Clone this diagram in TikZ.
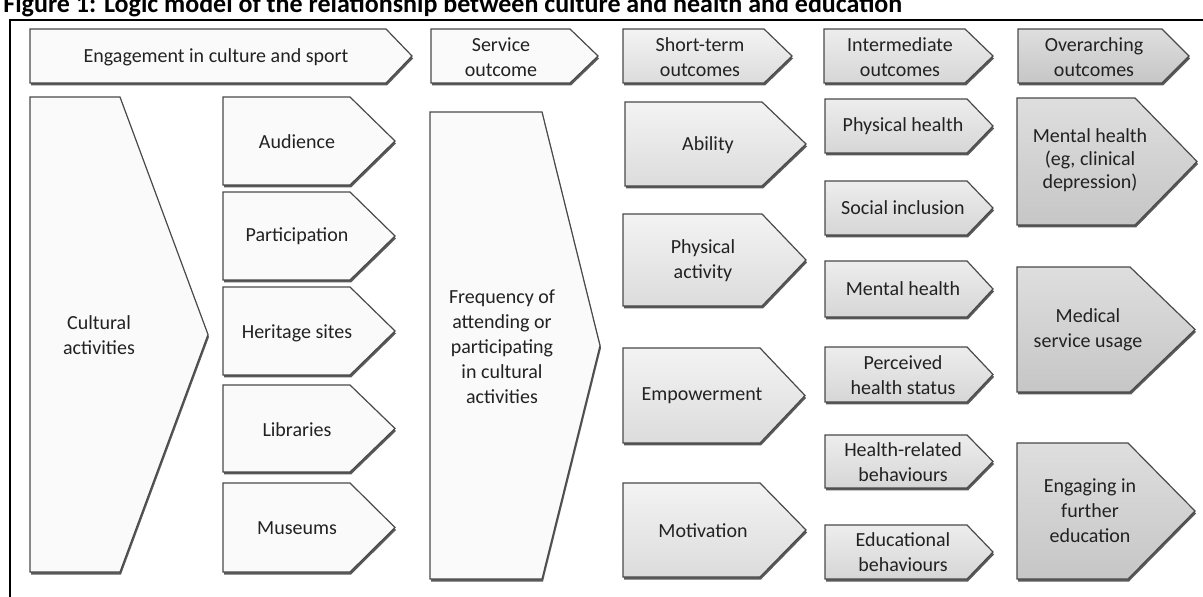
\documentclass[tikz,border=0pt]{standalone}
\usepackage{fontspec}
\setmainfont{Carlito}
\definecolor{edgec}{HTML}{4A4A4A}
\definecolor{txtc}{HTML}{222222}
\definecolor{shadowc}{HTML}{5A5A5A}
\definecolor{wfill}{HTML}{FAFAFA}
\definecolor{sttop}{HTML}{F3F3F3}
\definecolor{stbot}{HTML}{DCDCDC}
\definecolor{intop}{HTML}{EDEDED}
\definecolor{inbot}{HTML}{D6D6D6}
\definecolor{ovtop}{HTML}{DEDEDE}
\definecolor{ovbot}{HTML}{C6C6C6}
\newcommand\chevbox[6]{%
  \fill[shadowc] ({#1+1},{#2+2.5}) -- ({#3+1},{#2+2.5}) -- ({#4+1},{(#2+#5)/2+2.5}) -- ({#3+1},{#5+2.5}) -- ({#1+1},{#5+2.5}) -- cycle;
  \path[#6] (#1,#2) -- (#3,#2) -- (#4,{(#2+#5)/2}) -- (#3,#5) -- (#1,#5) -- cycle;}
\begin{document}
\begin{tikzpicture}[x=0.5pt,y=-0.5pt,
  txt/.style={font=\fontsize{10}{12.5}\selectfont, text=txtc, align=center, inner sep=0pt},
  txtb/.style={txt, font=\fontsize{10}{11.5}\selectfont},
  wbox/.style={draw=edgec, line width=0.6pt, fill=wfill},
  stbox/.style={draw=edgec, line width=0.6pt, top color=sttop, bottom color=stbot},
  inbox/.style={draw=edgec, line width=0.6pt, top color=intop, bottom color=inbot},
  ovbox/.style={draw=edgec, line width=0.6pt, top color=ovtop, bottom color=ovbot},
  frame/.style={draw=black, line width=0.8pt}]
\useasboundingbox (0,0) rectangle (1203,597);
% title (cut at top, as in the reference)
\node[anchor=base west, inner sep=0pt, font=\bfseries\fontsize{13}{15}\selectfont] (title) at (3,13) {Figure 1: Logic model of the relationship between culture and health and education};
% frame
\coordinate (fbl) at (10,597);
\coordinate (ftl) at (10,20);
\coordinate (ftr) at (1203,20);
\draw[frame] (fbl) -- (ftl) -- (ftr);
% header row
\chevbox{30}{29}{386}{412}{83}{wbox}
\node[txt] (hEng) at (216,57) {Engagement in culture and sport};
\chevbox{431}{29}{570}{598}{83}{wbox}
\node[txt] (hSvc) at (501,57) {Service\\outcome};
\chevbox{623}{29}{764}{792}{83}{stbox}
\node[txt] (hST) at (700,57) {Short-term\\outcomes};
\chevbox{824}{29}{965}{993}{83}{inbox}
\node[txt] (hInt) at (900,57) {Intermediate\\outcomes};
\chevbox{1018}{29}{1162}{1189}{83}{ovbox}
\node[txt] (hOv) at (1094,57) {Overarching\\outcomes};
% cultural activities
\chevbox{30}{97}{120}{208}{572}{wbox}
\node[txt] (cult) at (99,335) {Cultural\\activities};
% engagement types
\chevbox{223}{97}{350}{395}{185}{wbox}
\node[txt] (aud) at (297,142) {Audience};
\chevbox{223}{192}{350}{395}{280}{wbox}
\node[txt] (part) at (297,236) {Participation};
\chevbox{223}{287}{350}{395}{375}{wbox}
\node[txt] (herit) at (297,333) {Heritage sites};
\chevbox{223}{385}{350}{395}{472}{wbox}
\node[txt] (lib) at (297,430) {Libraries};
\chevbox{223}{483}{350}{395}{572}{wbox}
\node[txt] (mus) at (297,528) {Museums};
% frequency
\chevbox{430}{112}{542}{600}{579}{wbox}
\node[txt] (freq) at (502,347) {Frequency of\\attending or\\participating\\in cultural\\activities};
% short-term
\chevbox{625}{102}{762}{806}{186}{stbox}
\node[txt] (abil) at (708,145) {Ability};
\chevbox{623}{214}{762}{806}{306}{stbox}
\node[txt] (phys) at (703,261) {Physical\\activity};
\chevbox{623}{348}{760}{805}{443}{stbox}
\node[txt] (empw) at (702,396) {Empowerment};
\chevbox{623}{483}{760}{806}{577}{stbox}
\node[txt] (motv) at (703,531) {Motivation};
% intermediate
\chevbox{825}{99}{967}{993}{153}{inbox}
\node[txt] (iph) at (903,126) {Physical health};
\chevbox{825}{181}{967}{993}{235}{inbox}
\node[txt] (isi) at (903,208) {Social inclusion};
\chevbox{825}{261}{967}{993}{317}{inbox}
\node[txt] (imh) at (903,289) {Mental health};
\chevbox{825}{347}{967}{993}{402}{inbox}
\node[txt] (iphs) at (903,375) {Perceived\\health status};
\chevbox{825}{435}{967}{993}{488}{inbox}
\node[txt] (ihrb) at (903,462) {Health-related\\behaviours};
\chevbox{825}{525}{967}{993}{579}{inbox}
\node[txt] (ieb) at (903,552) {Educational\\behaviours};
% overarching
\chevbox{1017}{98}{1135}{1197}{225}{ovbox}
\node[txtb] (omh) at (1090,160) {Mental health\\(eg, clinical\\depression)};
\chevbox{1017}{267}{1130}{1195}{392}{ovbox}
\node[txt] (omsu) at (1088,330) {Medical\\service usage};
\chevbox{1017}{443}{1128}{1195}{579}{ovbox}
\node[txt] (oefe) at (1090,511) {Engaging in\\further\\education};
\end{tikzpicture}
\end{document}
